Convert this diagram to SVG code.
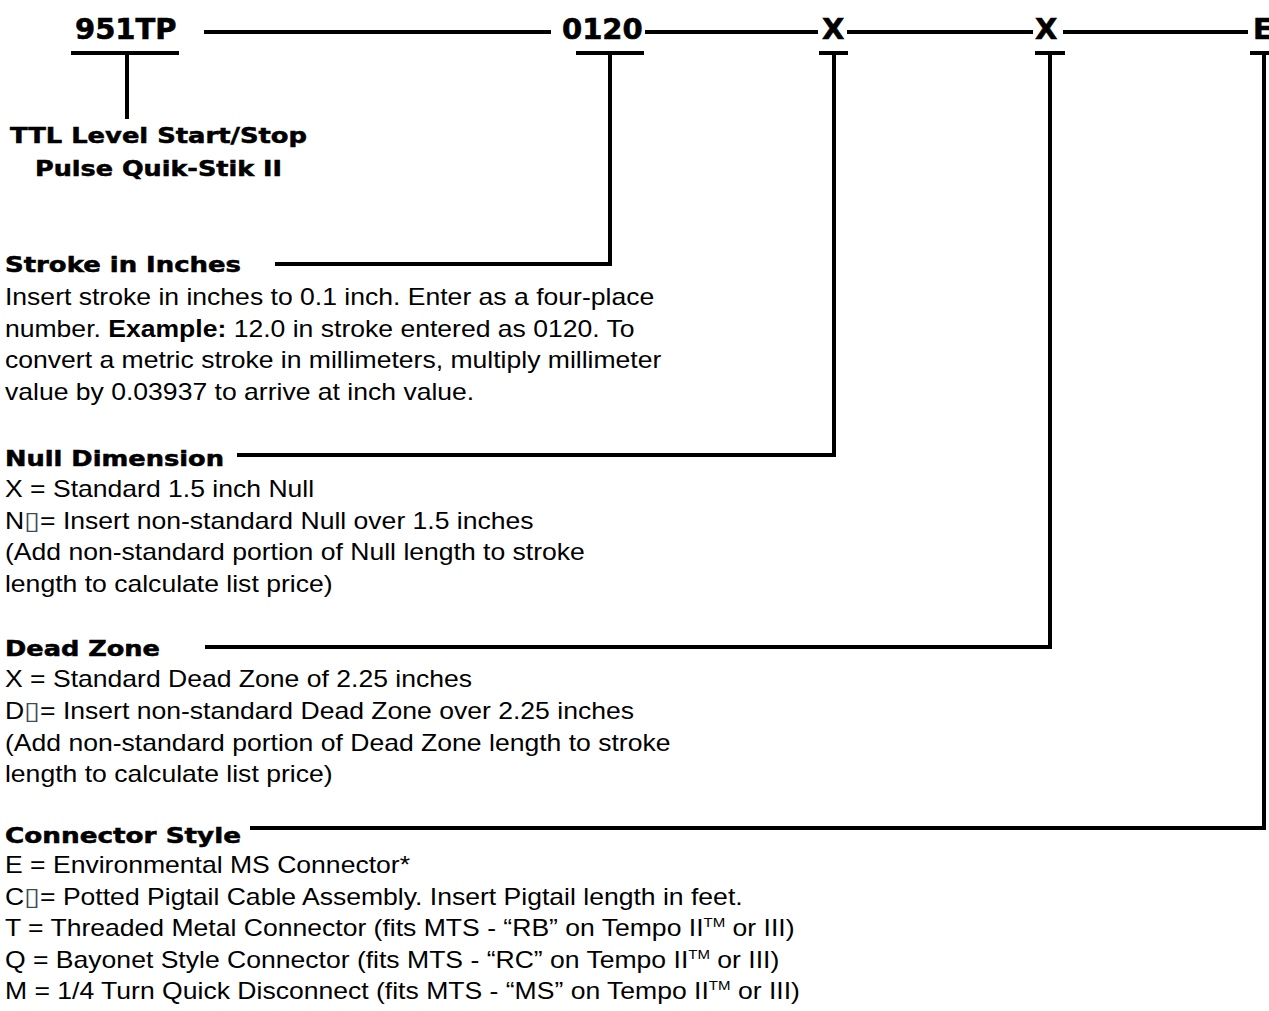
<svg xmlns="http://www.w3.org/2000/svg" width="1269" height="1011" viewBox="0 0 1269 1011">
<style>
.code{font-family:"DejaVu Sans",sans-serif;font-weight:bold;font-size:29px;fill:#000;stroke:#000;stroke-width:0.6}
.head{font-family:"DejaVu Sans",sans-serif;font-weight:bold;font-size:20.4px;fill:#000;stroke:#000;stroke-width:0.5}
.body{font-family:"Liberation Sans",Arial,sans-serif;font-size:23px;fill:#000}
.b{font-weight:bold}
.box{font-family:"DejaVu Sans",sans-serif;font-size:25px;fill:#3e4b57}
.sup{font-size:13px}
.ln{stroke:#000;stroke-width:4;fill:none}
</style>
<rect width="1269" height="1011" fill="#fff"/>
<g id="connectors" class="ln">
  <path d="M204 32H551"/>
  <path d="M645 32H818"/>
  <path d="M847 32H1033"/>
  <path d="M1063 32H1248"/>
  <path d="M71 53H179M127 53V119"/>
  <path d="M576 53H644M610 53V264H275"/>
  <path d="M819 53H848M834 53V455H237"/>
  <path d="M1035 53H1065M1050 53V647H205"/>
  <path d="M1250 53H1269M1264 53V828H250"/>
</g>
<g id="code-951TP"><text class="code" x="75" y="39">951TP</text></g>
<g id="code-0120"><text class="code" x="562" y="39">0120</text></g>
<g id="code-X1"><text class="code" x="822" y="39">X</text></g>
<g id="code-X2"><text class="code" x="1035" y="39">X</text></g>
<g id="code-E"><text class="code" x="1253" y="39">E</text></g>
<g id="model">
  <text class="head" x="158.5" y="143" text-anchor="middle" textLength="297" lengthAdjust="spacingAndGlyphs">TTL Level Start/Stop</text>
  <text class="head" x="158.5" y="176" text-anchor="middle" textLength="247" lengthAdjust="spacingAndGlyphs">Pulse Quik-Stik II</text>
</g>
<g id="stroke">
  <text class="head" x="5" y="272" textLength="236" lengthAdjust="spacingAndGlyphs">Stroke in Inches</text>
  <g transform="scale(1.155,1)">
    <text class="body" x="4.3" y="305">Insert stroke in inches to 0.1 inch. Enter as a four-place</text>
    <text class="body" x="4.3" y="337">number. <tspan class="b">Example:</tspan> 12.0 in stroke entered as 0120. To</text>
    <text class="body" x="4.3" y="368">convert a metric stroke in millimeters, multiply millimeter</text>
    <text class="body" x="4.3" y="400">value by 0.03937 to arrive at inch value.</text>
  </g>
</g>
<g id="null">
  <text class="head" x="5" y="466" textLength="219" lengthAdjust="spacingAndGlyphs">Null Dimension</text>
  <g transform="scale(1.155,1)">
    <text class="body" x="4.3" y="497">X = Standard 1.5 inch Null</text>
    <text class="body" x="4.3" y="529">N<tspan class="box">▯</tspan>= Insert non-standard Null over 1.5 inches</text>
    <text class="body" x="4.3" y="560">(Add non-standard portion of Null length to stroke</text>
    <text class="body" x="4.3" y="592">length to calculate list price)</text>
  </g>
</g>
<g id="deadzone">
  <text class="head" x="5" y="656" textLength="155" lengthAdjust="spacingAndGlyphs">Dead Zone</text>
  <g transform="scale(1.155,1)">
    <text class="body" x="4.3" y="687">X = Standard Dead Zone of 2.25 inches</text>
    <text class="body" x="4.3" y="719">D<tspan class="box">▯</tspan>= Insert non-standard Dead Zone over 2.25 inches</text>
    <text class="body" x="4.3" y="751">(Add non-standard portion of Dead Zone length to stroke</text>
    <text class="body" x="4.3" y="782">length to calculate list price)</text>
  </g>
</g>
<g id="connector">
  <text class="head" x="5" y="843" textLength="236" lengthAdjust="spacingAndGlyphs">Connector Style</text>
  <g transform="scale(1.155,1)">
    <text class="body" x="4.3" y="873">E = Environmental MS Connector*</text>
    <text class="body" x="4.3" y="905">C<tspan class="box">▯</tspan>= Potted Pigtail Cable Assembly. Insert Pigtail length in feet.</text>
    <text class="body" x="4.3" y="936">T = Threaded Metal Connector (fits MTS - “RB” on Tempo II<tspan class="sup" dy="-9">TM</tspan><tspan dy="9"> or III)</tspan></text>
    <text class="body" x="4.3" y="968">Q = Bayonet Style Connector (fits MTS - “RC” on Tempo II<tspan class="sup" dy="-9">TM</tspan><tspan dy="9"> or III)</tspan></text>
    <text class="body" x="4.3" y="999">M = 1/4 Turn Quick Disconnect (fits MTS - “MS” on Tempo II<tspan class="sup" dy="-9">TM</tspan><tspan dy="9"> or III)</tspan></text>
  </g>
</g>
</svg>
